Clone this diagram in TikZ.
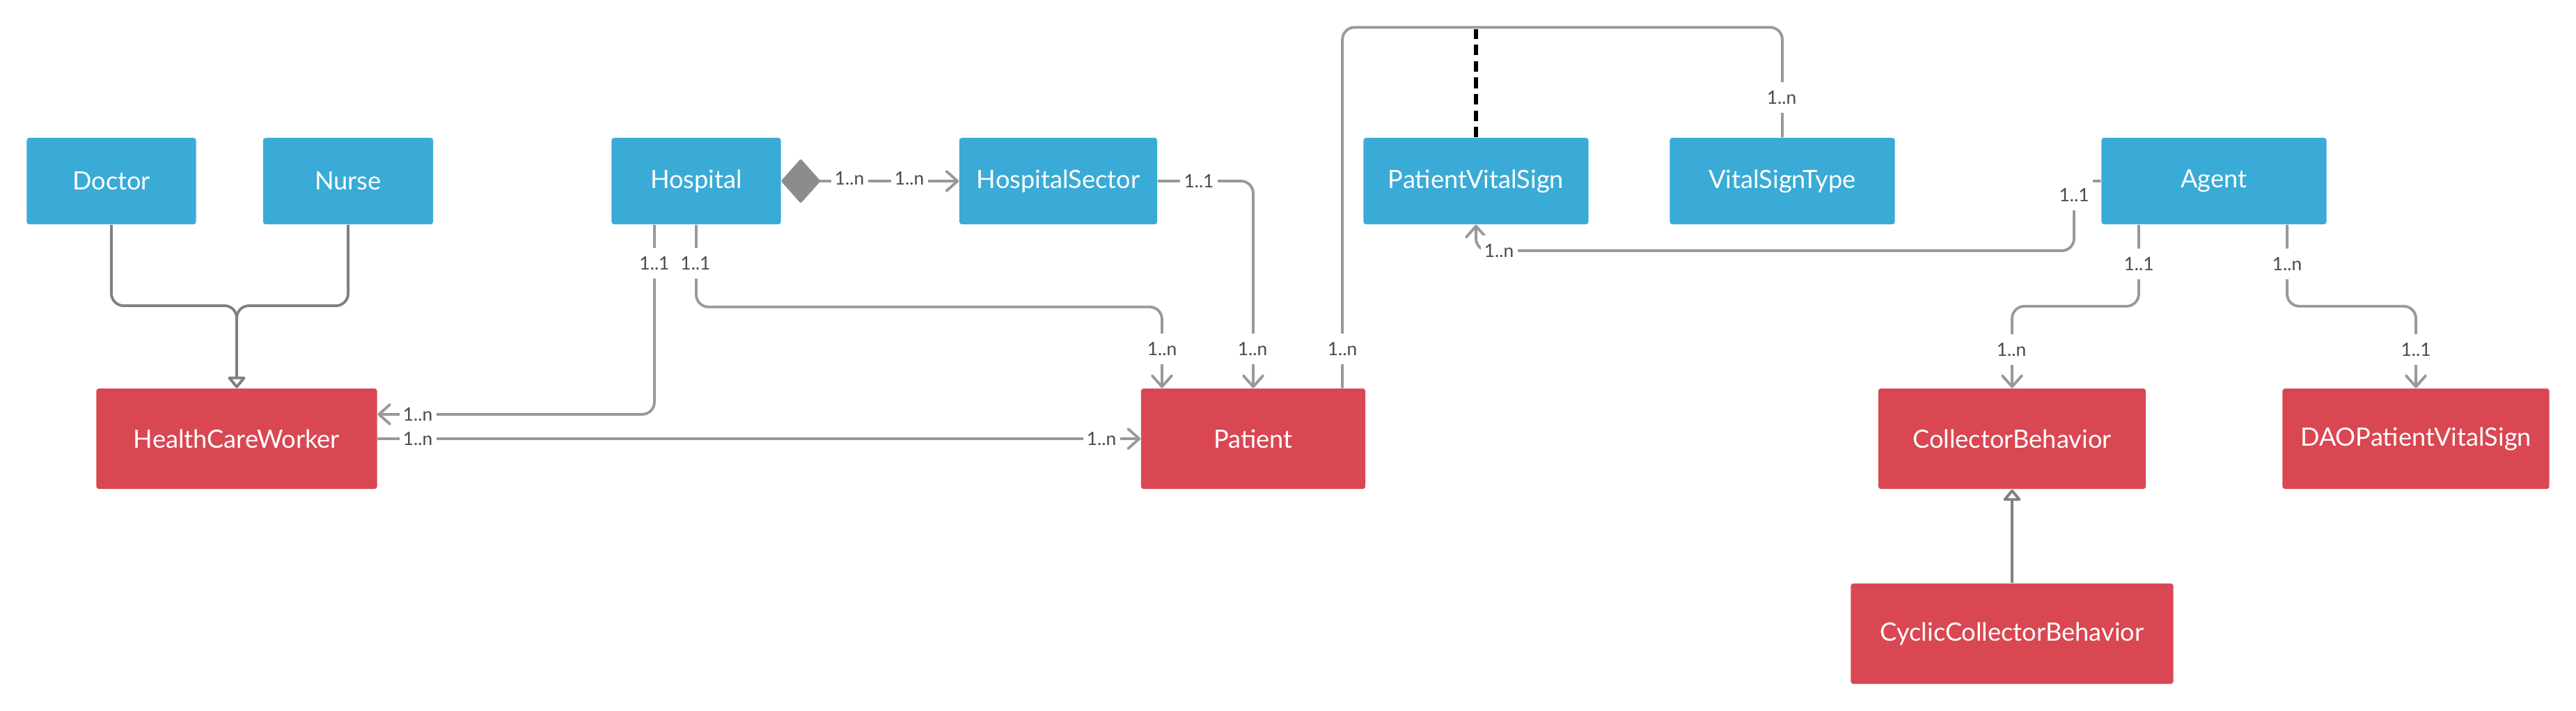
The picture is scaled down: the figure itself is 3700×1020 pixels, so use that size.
\documentclass[tikz,border=0pt]{standalone}
\usepackage{fontspec}
\setmainfont{Lato}
\usetikzlibrary{arrows.meta,calc}
\definecolor{boxblue}{HTML}{39ABD6}
\definecolor{boxred}{HTML}{D94753}
\definecolor{linegray}{HTML}{999999}
\definecolor{inhgray}{HTML}{808080}
\definecolor{diagray}{HTML}{8C8C8C}
\definecolor{cardtext}{HTML}{4A4A4A}
\tikzset{
  cls/.style={rectangle, rounded corners=1pt, inner sep=0pt, text=white, font=\fontsize{10.3}{12}\selectfont},
  bluebox/.style={cls, fill=boxblue, minimum height=1.24cm},
  redbox/.style={cls, fill=boxred, minimum height=1.44cm},
  assoc/.style={draw=linegray, line width=1.1pt, rounded corners=5pt},
  navarrow/.style={-{Straight Barb[length=4.5pt,width=8pt,round]}},
  inherit/.style={draw=inhgray, line width=1.1pt, rounded corners=5pt, -{Triangle[open,fill=white,length=5pt,width=8pt,round]}},
  dashline/.style={draw=black, line width=1.6pt, dash pattern=on 4.3pt off 2.4pt},
  card/.style={fill=white, text=cardtext, font=\fontsize{7.5}{9}\selectfont, inner xsep=1.5pt, inner ysep=3.5pt},
}

\begin{document}
\begin{tikzpicture}[x=0.01cm, y=-0.01cm]
  \useasboundingbox (0,0) rectangle (3700,1020);
  % classes
  \node[bluebox, minimum width=2.43cm] (doctor) at (160,260) {Doctor};
  \node[bluebox, minimum width=2.44cm] (nurse) at (500,260) {Nurse};
  \node[bluebox, minimum width=2.43cm] (hospital) at (1000,260) {Hospital};
  \node[bluebox, minimum width=2.84cm] (sector) at (1520,260) {HospitalSector};
  \node[bluebox, minimum width=3.23cm] (vitalsign) at (2120,260) {PatientVitalSign};
  \node[bluebox, minimum width=3.23cm] (signtype) at (2560,260) {VitalSignType};
  \node[bluebox, minimum width=3.23cm] (agent) at (3180,260) {Agent};
  \node[redbox, minimum width=4.03cm] (worker) at (340,630) {HealthCareWorker};
  \node[redbox, minimum width=3.22cm] (patient) at (1800,630) {Patient};
  \node[redbox, minimum width=3.84cm] (collector) at (2890,630) {CollectorBehavior};
  \node[redbox, minimum width=3.83cm] (dao) at (3470,630) {DAOPatientVitalSign};
  \node[redbox, minimum width=4.63cm] (cyclic) at (2890,910) {CyclicCollectorBehavior};

  % generalisations
  \coordinate (fork) at (340,439);
  \draw[inherit] (doctor.south) |- (fork) -- (worker.north);
  \draw[inherit] (nurse.south) |- (fork) -- (worker.north);
  \draw[inherit] (cyclic.north) -- (collector.south);

  % associations
  \draw[assoc, navarrow] ([xshift=-0.6cm]hospital.south) |- ([yshift=0.35cm]worker.east);
  \draw[assoc, navarrow] (hospital.south) -- ++(0,118) -| ([xshift=-1.31cm]patient.north);
  \draw[assoc, {Diamond[length=0.57cm,width=0.64cm,color=diagray,round]}-{Straight Barb[length=4.5pt,width=8pt,round]}]
    (hospital.east) -- (sector.west);
  \draw[assoc, navarrow] (sector.east) -| (patient.north);
  \draw[assoc, navarrow] (worker.east) -- (patient.west);
  \draw[assoc] ([xshift=1.28cm]patient.north) -- ++(0,-518) -| (signtype.north);
  \draw[dashline] (vitalsign.north) -- ++(0,-155);
  \coordinate (abend) at (2979,360);
  \draw[assoc, navarrow] (agent.west) -| (abend) -| (vitalsign.south);
  \draw[assoc, navarrow] ([xshift=-1.08cm]agent.south) -- ++(0,117) -| (collector.north);
  \draw[assoc, navarrow] ([xshift=1.05cm]agent.south) -- ++(0,117) -| (dao.north);

  % multiplicities
  \node[card] (hw1) at (940,378) {1..1};
  \node[card] (hw2) at (600,595) {1..n};
  \node[card] (hp1) at (999,378) {1..1};
  \node[card] (hp2) at (1669,501) {1..n};
  \node[card] (hs1) at (1220,256) {1..n};
  \node[card] (hs2) at (1306,256) {1..n};
  \node[card] (sp1) at (1722,260) {1..1};
  \node[card] (sp2) at (1799,501) {1..n};
  \node[card] (wp1) at (600,630) {1..n};
  \node[card] (wp2) at (1582,630) {1..n};
  \node[card] (pt1) at (1928,501) {1..n};
  \node[card] (pt2) at (2559,140) {1..n};
  \node[card] (av1) at (2979,280) {1..1};
  \node[card] (av2) at (2153,360) {1..n};
  \node[card] (ac1) at (3072,379) {1..1};
  \node[card] (ac2) at (2889,502) {1..n};
  \node[card] (ad1) at (3285,379) {1..n};
  \node[card] (ad2) at (3470,502) {1..1};
\end{tikzpicture}
\end{document}
